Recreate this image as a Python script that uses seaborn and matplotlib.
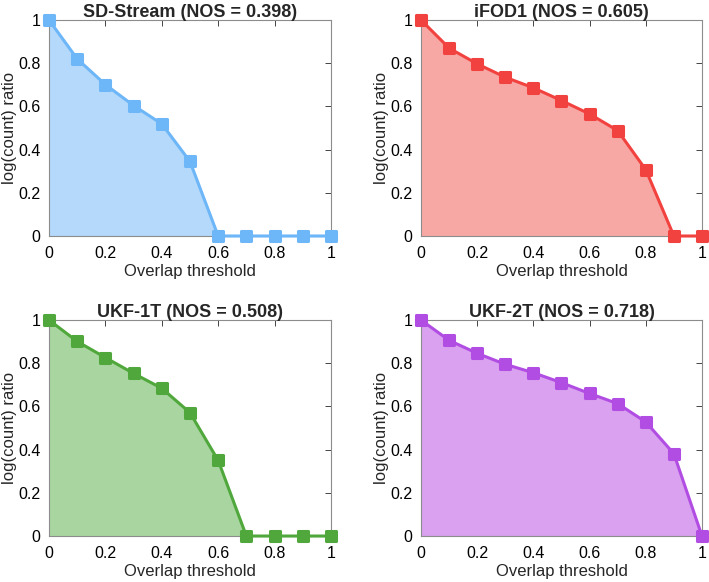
import numpy as np
import pandas as pd
import matplotlib
matplotlib.use("Agg")
import matplotlib.pyplot as plt
from matplotlib.markers import MarkerStyle
import seaborn as sns

thresholds = [0.0, 0.1, 0.2, 0.3, 0.4, 0.5, 0.6, 0.7, 0.8, 0.9, 1.0]

sd_stream = [1.0, 0.820, 0.701, 0.604, 0.519, 0.345, 0.0, 0.0, 0.0, 0.0, 0.0]
ifod1 = [1.0, 0.870, 0.797, 0.735, 0.686, 0.627, 0.565, 0.488, 0.307, 0.0, 0.0]
ukf_1t = [1.0, 0.901, 0.826, 0.753, 0.684, 0.571, 0.350, 0.0, 0.0, 0.0, 0.0]
ukf_2t = [1.0, 0.906, 0.846, 0.795, 0.756, 0.710, 0.660, 0.613, 0.528, 0.381, 0.0]

titles = ["SD-Stream (NOS = 0.398)", "iFOD1 (NOS = 0.605)",
          "UKF-1T (NOS = 0.508)", "UKF-2T (NOS = 0.718)"]
series = [sd_stream, ifod1, ukf_1t, ukf_2t]
line_colors = ["#6db6f7", "#f2423f", "#50a83c", "#b14de3"]
fill_colors = ["#b5d9fb", "#f7a8a4", "#a9d6a0", "#d9a1ef"]

sns.set_style("ticks")
plt.rcParams["font.family"] = ["Liberation Sans", "DejaVu Sans"]

fig = plt.figure(figsize=(7.09, 5.82), dpi=100)
positions = [
    [0.0691, 0.5945, 0.3977, 0.3711],
    [0.5938, 0.5945, 0.3963, 0.3711],
    [0.0691, 0.0790, 0.3977, 0.3711],
    [0.5938, 0.0790, 0.3963, 0.3711],
]

# rounded square markers, like the original
sq = MarkerStyle("s", joinstyle="round")

for pos, title, vals, lc, fc in zip(positions, titles, series, line_colors, fill_colors):
    ax = fig.add_axes(pos)
    df = pd.DataFrame({"Overlap threshold": thresholds, "ratio": vals})
    ax.fill_between(df["Overlap threshold"], df["ratio"], 0, color=fc, linewidth=0, zorder=1)
    sns.lineplot(data=df, x="Overlap threshold", y="ratio", ax=ax, color=lc,
                 linewidth=2.2, marker=sq, markersize=6.5, markeredgewidth=2.2,
                 markeredgecolor=lc, markerfacecolor=lc, zorder=3, clip_on=False)
    ax.set_xlim(0, 1)
    ax.set_ylim(0, 1)
    ax.set_xticks([0, 0.2, 0.4, 0.6, 0.8, 1])
    ax.set_xticklabels(["0", "0.2", "0.4", "0.6", "0.8", "1"])
    ax.set_yticks([0, 0.2, 0.4, 0.6, 0.8, 1])
    ax.set_yticklabels(["0", "0.2", "0.4", "0.6", "0.8", "1"])
    ax.tick_params(direction="in", top=True, right=True, length=4, width=0.6,
                   color="#262626", labelsize=11.5, labelcolor="black")
    ax.tick_params(axis="x", pad=7)
    ax.tick_params(axis="y", pad=6)
    for sp in ax.spines.values():
        sp.set_color("#8c8c8c")
        sp.set_linewidth(0.8)
    ax.set_xlabel("Overlap threshold", fontsize=12, labelpad=2)
    ax.set_ylabel("log(count) ratio", fontsize=12, labelpad=1)
    ax.set_title(title, fontsize=13, fontweight="bold", pad=2)

fig.savefig("out.png", dpi=100)
